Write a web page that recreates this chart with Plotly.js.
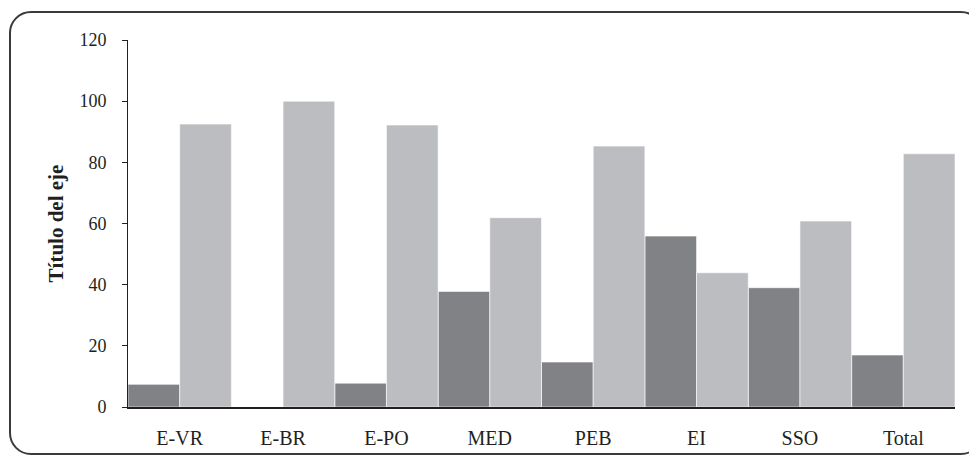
<!DOCTYPE html>
<html>
<head>
<meta charset="utf-8">
<script src="https://cdn.plot.ly/plotly-3.0.1.min.js"></script>
<style>
  html, body { margin: 0; padding: 0; background: #fff; overflow: hidden; }
  #frame { position: absolute; left: 9px; top: 11px; width: 970px; height: 440px;
           border: 2px solid #3a3a3a; border-radius: 22px; }
  #chart { position: absolute; left: 0; top: 0; width: 969px; height: 455px; }
</style>
</head>
<body>
<div id="frame"></div>
<div id="chart"></div>
<script>
const categories = ["E-VR", "E-BR", "E-PO", "MED", "PEB", "EI", "SSO", "Total"];
const seriesDark = [7.4, 0, 7.8, 37.8, 14.7, 55.9, 39.0, 17.0];
const seriesLight = [92.5, 100, 92.2, 61.9, 85.3, 43.9, 60.8, 82.8];
const yTicks = [0, 20, 40, 60, 80, 100, 120];

const traces = [
  { type: "bar", x: categories, y: seriesDark, name: "Serie 1",
    marker: { color: "#818285", line: { color: "#ffffff", width: 0.6 } } },
  { type: "bar", x: categories, y: seriesLight, name: "Serie 2",
    marker: { color: "#bcbdc0", line: { color: "#ffffff", width: 0.6 } } }
];

const layout = {
  width: 969, height: 455,
  margin: { l: 128, r: 14, t: 40, b: 48 },
  paper_bgcolor: "rgba(0,0,0,0)",
  plot_bgcolor: "rgba(0,0,0,0)",
  barmode: "group", bargap: 0, bargroupgap: 0,
  showlegend: false,
  font: { family: "Liberation Serif, serif", color: "#231f20", size: 18 },
  xaxis: {
    showline: true, linecolor: "#231f20", linewidth: 1.5,
    ticks: "", showgrid: false, zeroline: false,
    tickfont: { size: 20 }, ticklabelstandoff: 12
  },
  yaxis: {
    range: [0, 120], tickvals: yTicks, ticktext: yTicks.map(String),
    showline: true, linecolor: "#231f20", linewidth: 1,
    ticks: "outside", ticklen: 5, tickcolor: "#231f20",
    showgrid: false, zeroline: false,
    tickfont: { size: 18 }, ticklabelstandoff: 12,
    title: { text: "Título del eje", font: { size: 21, weight: "bold" }, standoff: 10 }
  }
};

Plotly.newPlot("chart", traces, layout, { displayModeBar: false, staticPlot: true });
</script>
</body>
</html>
